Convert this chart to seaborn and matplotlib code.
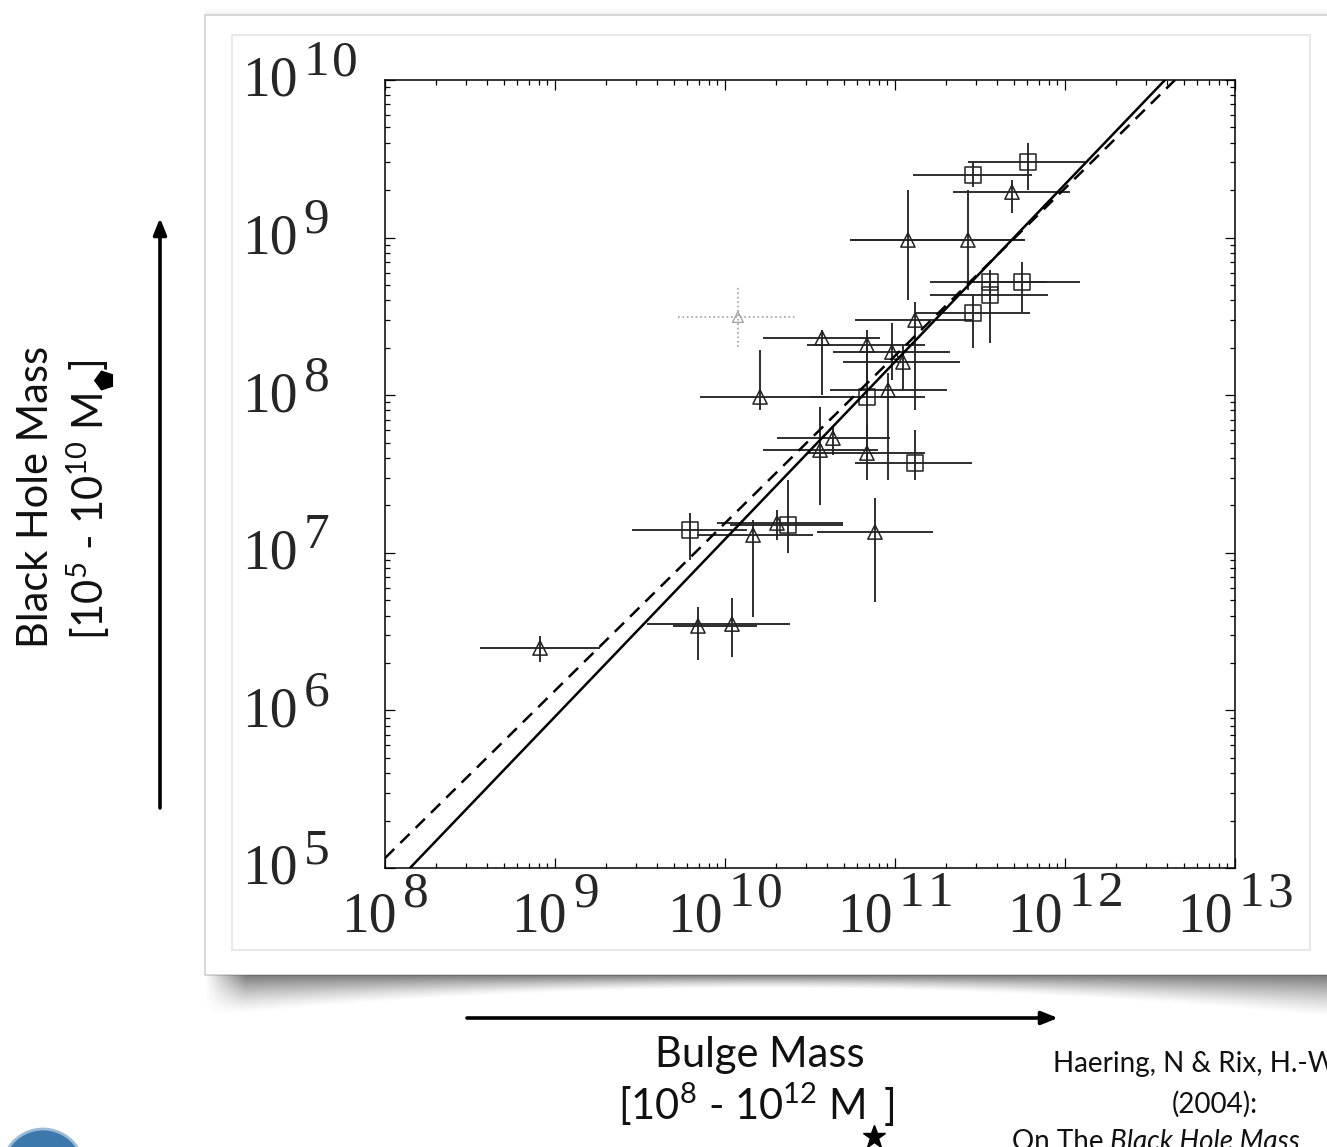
import numpy as np
import pandas as pd
import matplotlib
matplotlib.use("Agg")
import matplotlib.pyplot as plt
import seaborn as sns
from matplotlib.patches import Rectangle, Circle
from matplotlib.ticker import LogLocator, NullFormatter
from matplotlib.transforms import blended_transform_factory, offset_copy

# ---------------- data (log10 values) ----------------
galaxy_type = ["T", "T", "T", "S", "T", "T", "S", "T", "T", "T",
               "T", "S", "T", "S", "T", "T", "T", "T", "T", "T",
               "G", "T", "T", "S", "S", "T", "S", "S", "S", "S"]
log_bulge = [8.912, 9.841, 10.041, 9.794, 10.165, 10.306, 10.371, 10.882, 10.559, 10.635,
             10.835, 11.118, 10.206, 10.835, 10.959, 10.571, 10.835, 10.982, 11.047, 11.118,
             10.076, 11.076, 11.429, 11.782, 11.459, 11.688, 11.559, 11.747, 11.559, 11.459]
log_bulge_lo = [8.559, 9.694, 9.541, 9.453, 9.835, 9.953, 10.029, 10.541, 10.224, 10.306,
                10.482, 10.765, 9.853, 10.500, 10.618, 10.224, 10.482, 10.635, 10.694, 10.765,
                9.724, 10.735, 10.735, 11.429, 11.106, 11.341, 11.206, 11.412, 11.206, 11.118]
log_bulge_hi = [9.265, 10.188, 10.382, 10.129, 10.518, 10.694, 10.694, 11.224, 10.900, 10.971,
                11.176, 11.453, 10.618, 11.176, 11.306, 10.912, 11.176, 11.324, 11.382, 11.453,
                10.412, 11.765, 11.765, 12.129, 11.806, 12.029, 11.894, 12.088, 11.900, 11.794]
log_bh = [6.396, 6.536, 6.548, 7.145, 7.113, 7.189, 7.176, 7.132, 7.652, 7.728,
          7.633, 7.570, 7.989, 7.989, 8.033, 8.363, 8.319, 8.274, 8.211, 8.477,
          8.496, 8.985, 8.985, 9.480, 9.397, 9.289, 8.718, 8.718, 8.636, 8.522]
log_bh_lo = [6.307, 6.320, 6.339, 6.954, 6.593, 7.081, 6.999, 6.688, 7.303, 7.620,
             7.462, 7.462, 7.906, 7.589, 7.462, 8.001, 7.989, 8.096, 8.033, 7.906,
             8.306, 8.604, 8.668, 9.302, 9.321, 9.156, 8.604, 8.528, 8.331, 8.299]
log_bh_hi = [6.472, 6.656, 6.713, 7.253, 7.208, 7.272, 7.462, 7.348, 7.925, 7.798,
             7.811, 7.779, 8.287, 8.319, 8.141, 8.414, 8.414, 8.458, 8.319, 8.591,
             8.687, 9.302, 9.302, 9.600, 9.480, 9.365, 8.794, 8.845, 8.718, 8.636]

# fit lines (end points)
fit_bulge = [10 ** 8.147, 10 ** 12.588]
fit_bh = [1e5, 1e10]
alt_fit_bulge = [1e8, 10 ** 12.647]
alt_fit_bh = [10 ** 5.063, 1e10]

x_tick_exp = [8, 9, 10, 11, 12, 13]
y_tick_exp = [5, 6, 7, 8, 9, 10]

# ---------------- styling ----------------
sns.set_style("ticks")
plt.rcParams["font.family"] = ["Lato", "DejaVu Sans"]
plt.rcParams["mathtext.fontset"] = "custom"
plt.rcParams["mathtext.rm"] = "Lato"
plt.rcParams["mathtext.it"] = "Lato:italic"
TICK_FONT = "Liberation Serif"
FS_BASE, FS_SUP = 40, 37
FS_SLIDE = 30
TXT = "#111111"

W, H = 1327, 1147
fig = plt.figure(figsize=(W / 100, H / 100), dpi=100)
fig.patch.set_facecolor("white")

# ---------------- slide background (pixel coordinates) ----------------
bg = fig.add_axes([0, 0, 1, 1], zorder=-5)
bg.set_xlim(0, W)
bg.set_ylim(H, 0)
bg.axis("off")

for i, a in enumerate([0.05, 0.08, 0.12]):
    bg.add_patch(Rectangle((205, 10 + 2 * i), W, 2, fc="gray", ec="none", alpha=a))
bg.add_patch(Rectangle((205, 15), 1200, 960, fc="white", ec="#d2d2d2", lw=1.2))
bg.add_patch(Rectangle((232, 35), 1078, 915, fc="white", ec="#e8e8e8", lw=1.5))

# curved shadow below card
xs = np.arange(205, W)
depth = 13 + 29 * ((xs - 766) / 561.0) ** 2
rows = 55
t = np.arange(rows)[:, None]
alpha = np.clip(1 - t / depth[None, :], 0, 1) ** 1.3 * 0.68
edge_fade = np.clip((xs - 205) / 40.0, 0, 1)
alpha = alpha * edge_fade[None, :]
img = np.zeros((rows, len(xs), 4))
img[..., :3] = 0.25
img[..., 3] = alpha
bg.imshow(img, extent=(205, W, 975 + rows, 975), aspect="auto", interpolation="bilinear", zorder=1)

# arrows
bg.annotate("", xy=(160, 218), xytext=(160, 808),
            arrowprops=dict(arrowstyle="-|>,head_length=0.7,head_width=0.28", lw=2.6,
                            color="black", shrinkA=0, shrinkB=0, mutation_scale=14))
bg.annotate("", xy=(1058, 1018), xytext=(467, 1018),
            arrowprops=dict(arrowstyle="-|>,head_length=0.7,head_width=0.28", lw=2.6,
                            color="black", shrinkA=0, shrinkB=0, mutation_scale=14))

fig.canvas.draw()
renderer = fig.canvas.get_renderer()
inv = bg.transData.inverted()


def bbox_data(artist):
    bb = artist.get_window_extent(renderer)
    (x0, y0), (x1, y1) = inv.transform([[bb.x0, bb.y0], [bb.x1, bb.y1]])
    return min(x0, x1), max(x0, x1), min(y0, y1), max(y0, y1)


# y description
bg.text(36, 497, "Black Hole Mass", rotation=90, ha="center", va="center", fontsize=FS_SLIDE, color=TXT)
ylab = bg.text(88, 640, r"[10$^{5}$ - 10$^{10}$ M", rotation=90, ha="center", va="bottom",
               fontsize=FS_SLIDE, color=TXT)
_, _, top_y, _ = bbox_data(ylab)
bg.plot([104], [top_y - 13], marker=(5, 0, 90), ms=14, color="black", ls="none")
bg.text(88, top_y - 24, "]", rotation=90, ha="center", va="bottom", fontsize=FS_SLIDE, color=TXT)

# x description
bg.text(760, 1055, "Bulge Mass", ha="center", va="center", fontsize=FS_SLIDE, color=TXT)
xlab = bg.text(618, 1120, r"[10$^{8}$ - 10$^{12}$ M", ha="left", va="baseline",
               fontsize=FS_SLIDE, color=TXT)
_, right_x, _, _ = bbox_data(xlab)
bg.plot([right_x + 9], [1137], marker="*", ms=17, color="black", ls="none")
bg.text(right_x + 19, 1120, "]", ha="left", va="baseline", fontsize=FS_SLIDE, color=TXT)

# citation
bg.text(1053, 1072, "Haering, N & Rix, H.-W.", ha="left", va="baseline", fontsize=20, color=TXT)
bg.text(1215, 1113, "(2004):", ha="center", va="baseline", fontsize=20, color=TXT)
on_t = bg.text(1012, 1150, "On The", ha="left", va="baseline", fontsize=20, color=TXT)
_, on_r, _, _ = bbox_data(on_t)
bg.text(on_r + 6, 1150, "Black Hole Mass", ha="left", va="baseline", fontsize=20,
        style="italic", color=TXT)

# logo (bottom left)
bg.add_patch(Circle((43, 1170), 41, fc="#3d78ad", ec="#9dbbd6", lw=2))

# ---------------- main plot ----------------
ax = fig.add_axes([385 / W, 1 - 868 / H, 850 / W, 788 / H], zorder=2)
ax.set_facecolor("white")
ax.set_xscale("log")
ax.set_yscale("log")

df = pd.DataFrame({
    "bulge": 10 ** np.array(log_bulge),
    "bulge_lo": 10 ** np.array(log_bulge_lo),
    "bulge_hi": 10 ** np.array(log_bulge_hi),
    "bh": 10 ** np.array(log_bh),
    "bh_lo": 10 ** np.array(log_bh_lo),
    "bh_hi": 10 ** np.array(log_bh_hi),
    "kind": galaxy_type,
})

for kind, col, ls, lw in [("T", "#262626", "-", 1.35), ("S", "#262626", "-", 1.35), ("G", "#a0a0a0", ":", 1.2)]:
    d = df[df.kind == kind]
    eb = ax.errorbar(d.bulge, d.bh,
                     xerr=[d.bulge - d.bulge_lo, d.bulge_hi - d.bulge],
                     yerr=[d.bh - d.bh_lo, d.bh_hi - d.bh],
                     fmt="none", ecolor=col, elinewidth=lw, capsize=0, zorder=2)
    for lc in eb[2]:
        lc.set_linestyle(ls)

sns.scatterplot(data=df[df.kind == "T"], x="bulge", y="bh", marker="^", s=105,
                facecolors="none", edgecolor="#222222", linewidth=1.1, ax=ax, zorder=3, legend=False)
sns.scatterplot(data=df[df.kind == "S"], x="bulge", y="bh", marker="s", s=130,
                facecolors="none", edgecolor="#222222", linewidth=1.1, ax=ax, zorder=3, legend=False)
sns.scatterplot(data=df[df.kind == "G"], x="bulge", y="bh", marker="^", s=60,
                facecolors="none", edgecolor="#a0a0a0", linewidth=0.9, ax=ax, zorder=3, legend=False)

sns.lineplot(x=fit_bulge, y=fit_bh, color="black", lw=1.8, ax=ax, zorder=4)
sns.lineplot(x=alt_fit_bulge, y=alt_fit_bh, color="black", lw=1.8, ax=ax, zorder=4,
             dashes=False, linestyle=(0, (5.2, 3.4)))

ax.set_xlim(1e8, 1e13)
ax.set_ylim(1e5, 1e10)
for axis in (ax.xaxis, ax.yaxis):
    axis.set_major_locator(LogLocator(base=10, numticks=12))
    axis.set_minor_locator(LogLocator(base=10, subs=np.arange(2, 10), numticks=12))
    axis.set_major_formatter(NullFormatter())
    axis.set_minor_formatter(NullFormatter())
ax.tick_params(which="both", direction="in", top=True, right=True, color="black", width=0.9)
ax.tick_params(which="major", length=7)
ax.tick_params(which="minor", length=3.5)
for s in ax.spines.values():
    s.set_linewidth(1.1)
    s.set_color("black")
ax.set_xlabel("")
ax.set_ylabel("")

# ---------------- tick labels: 10 with large exponent ----------------
fig.canvas.draw()
renderer = fig.canvas.get_renderer()


def width_px(s, fs):
    tt = fig.text(0, 0, s, fontsize=fs, family=TICK_FONT)
    w = tt.get_window_extent(renderer).width
    tt.remove()
    return w


gap = 6
dsp = 3  # extra spacing between exponent digits
bw = width_px("10", FS_BASE)


def sup_width(s):
    return sum(width_px(c, FS_SUP) for c in s) + dsp * (len(s) - 1)


def draw_sup(x, y, s, trans_base, dx0, dy):
    pos = dx0
    for c in s:
        ax.text(x, y, c, transform=offset_copy(trans_base, fig, x=pos, y=dy, units="dots"),
                ha="left", va="center", fontsize=FS_SUP, family=TICK_FONT, clip_on=False)
        pos += width_px(c, FS_SUP) + dsp


bx = blended_transform_factory(ax.transData, ax.transAxes)
for e in x_tick_exp:
    sw = sup_width(str(e))
    start = -(bw + gap + sw) / 2
    ax.text(10.0 ** e, 0, "10", transform=offset_copy(bx, fig, x=start, y=-50, units="dots"),
            ha="left", va="center", fontsize=FS_BASE, family=TICK_FONT, clip_on=False)
    draw_sup(10.0 ** e, 0, str(e), bx, start + bw + gap, -26)

by = blended_transform_factory(ax.transAxes, ax.transData)
for e in y_tick_exp:
    ax.text(0, 10.0 ** e, "10", transform=offset_copy(by, fig, x=-143, y=-2, units="dots"),
            ha="left", va="center", fontsize=FS_BASE, family=TICK_FONT, clip_on=False)
    draw_sup(0, 10.0 ** e, str(e), by, -143 + bw + gap, 17)

fig.savefig("out.png", dpi=100, facecolor="white")
